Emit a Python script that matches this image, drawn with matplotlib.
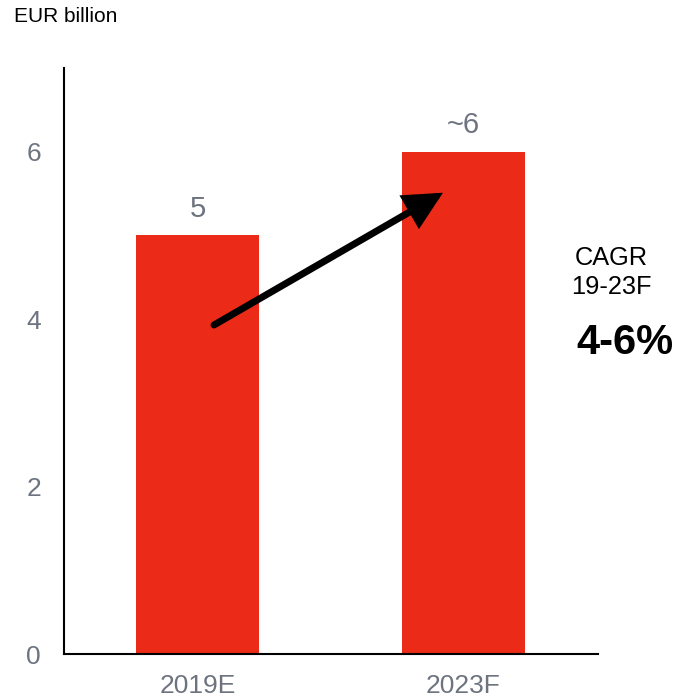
import matplotlib
matplotlib.use("Agg")
import matplotlib.pyplot as plt

plt.rcParams['font.family'] = ['Liberation Sans', 'DejaVu Sans']

categories = ["2019E", "2023F"]
values = [5, 6]
value_labels = ["5", "~6"]
arrow_start = (0.062, 3.93)
arrow_end = (0.923, 5.51)
yticks = [0, 2, 4, 6]

RED = "#EB2B17"
GRAY = "#6D7480"

fig = plt.figure(figsize=(6.82, 6.99), dpi=100)
ax = fig.add_axes([64/682, 1-654/699, (598-64)/682, (654-68)/699])

x = list(range(len(categories)))
bars = ax.bar(x, values, width=0.46, color=RED, zorder=2)

for xi, v, lab in zip(x, values, value_labels):
    ax.annotate(lab, (xi, v), xytext=(0, 13.5), textcoords='offset points',
                ha='center', va='baseline', fontsize=21, color=GRAY)

ax.annotate("", xy=arrow_end, xytext=arrow_start,
            arrowprops=dict(arrowstyle='-|>,head_length=1.0,head_width=0.5',
                            lw=5, color='black', mutation_scale=20,
                            shrinkA=0, shrinkB=0, joinstyle='miter'),
            zorder=3)

ax.set_xlim(-0.502, 1.506)
ax.set_ylim(0, 7)
ax.set_xticks(x)
ax.set_xticklabels(categories)
ax.set_yticks(yticks)
ax.set_yticklabels([str(t) for t in yticks])
ax.tick_params(axis='both', length=0, labelsize=19, labelcolor=GRAY)
ax.tick_params(axis='y', pad=16.5)
ax.tick_params(axis='x', pad=14.5)

for s in ['top', 'right']:
    ax.spines[s].set_visible(False)
for s in ['left', 'bottom']:
    ax.spines[s].set_linewidth(1.5)
    ax.spines[s].set_color('black')

fig.text(14/682, 1-17/699, "EUR billion", fontsize=15, color='black', va='center', ha='left')
fig.text(611/682, 1-258/699, "CAGR", fontsize=18.3, color='black', va='center', ha='center')
fig.text(611/682, 1-287/699, "19-23F", fontsize=18.3, color='black', va='center', ha='center')
fig.text(625/682, 1-343/699, "4-6%", fontsize=30, fontweight='bold', color='black', va='center', ha='center')

fig.savefig("out.png", dpi=100)
